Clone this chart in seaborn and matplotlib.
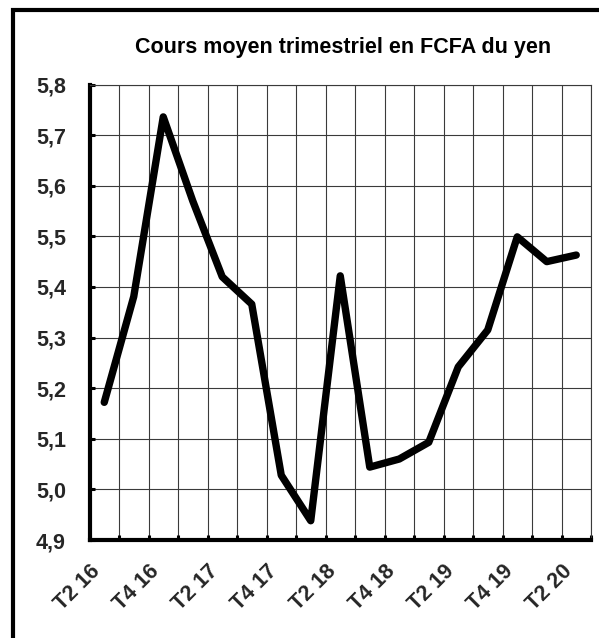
import numpy as np
import seaborn as sns
import pandas as pd
import matplotlib.pyplot as plt
import matplotlib.ticker as ticker
from matplotlib.patches import Rectangle

# quarterly average exchange rate (FCFA per yen)
quarters = [
    "T2 16", "T3 16", "T4 16",
    "T1 17", "T2 17", "T3 17", "T4 17",
    "T1 18", "T2 18", "T3 18", "T4 18",
    "T1 19", "T2 19", "T3 19", "T4 19",
    "T1 20", "T2 20",
]
rates = [
    5.172, 5.381, 5.736,
    5.570, 5.420, 5.366, 5.028,
    4.938, 5.422, 5.044, 5.060,
    5.093, 5.242, 5.315, 5.499,
    5.450, 5.463,
]
y_ticks = [4.9, 5.0, 5.1, 5.2, 5.3, 5.4, 5.5, 5.6, 5.7, 5.8]
y_tick_labels = ["4,9", "5,0", "5,1", "5,2", "5,3", "5,4", "5,5", "5,6", "5,7", "5,8"]
title = "Cours moyen trimestriel en FCFA du yen"

sns.set_theme(style="white")
plt.rcParams["font.family"] = ["Liberation Sans", "DejaVu Sans"]
plt.rcParams["font.weight"] = "bold"

W, H = 599, 638
fig = plt.figure(figsize=(W / 100, H / 100), dpi=100)
fig.patch.set_facecolor("white")

left, right, top, bottom = 89.5, 591, 84.5, 540
ax = fig.add_axes([left / W, 1 - bottom / H, (right - left) / W, (bottom - top) / H])

df = pd.DataFrame({"pos": np.arange(len(quarters)), "rate": rates})
sns.lineplot(data=df, x="pos", y="rate", ax=ax, color="black", linewidth=5.3)
for line in ax.lines:
    line.set_solid_capstyle("round")
    line.set_solid_joinstyle("round")

n = len(quarters)
ax.set_xlim(-0.5, n - 0.5)
ax.set_ylim(4.9, 5.8)

# boundaries between quarters carry the grid and the small tick marks
ax.set_xticks(np.arange(-0.5, n, 1.0))
ax.set_xticklabels([])
ax.set_xticks(np.arange(0, n, 2), minor=True)
ax.set_xticklabels(quarters[::2], minor=True, rotation=45, ha="right", va="top",
                   fontsize=15.5, fontweight="bold")
ax.tick_params(axis="x", which="major", direction="in", length=3.5, width=2.2,
               color="black", bottom=True)
ax.tick_params(axis="x", which="minor", length=0, pad=15)

ax.set_yticks(y_ticks)
ax.set_yticklabels(y_tick_labels, fontsize=15.5, fontweight="bold")
ax.tick_params(axis="y", direction="in", length=3.5, width=2.2, color="black",
               left=True, pad=17)

ax.grid(True, which="major", color="#3a3a3a", linewidth=0.8)
ax.set_axisbelow(True)
ax.set_xlabel("")
ax.set_ylabel("")

for side in ["top", "right"]:
    ax.spines[side].set_color("#3a3a3a")
    ax.spines[side].set_linewidth(0.8)
for side in ["left", "bottom"]:
    ax.spines[side].set_color("black")
    ax.spines[side].set_linewidth(3)

fig.text(343.5 / W, 1 - 53.3 / H, title, ha="center", va="baseline",
         fontsize=15.5, fontweight="bold", color="black")

# chart frame (left and top edges visible, the rest runs off the image)
frame = Rectangle((13 / W, -0.1), 1.2, 1.1 - 10 / H, transform=fig.transFigure,
                  fill=False, edgecolor="black", linewidth=3, clip_on=False)
fig.patches.append(frame)

fig.savefig("out.png", dpi=100, facecolor="white")
plt.close(fig)
